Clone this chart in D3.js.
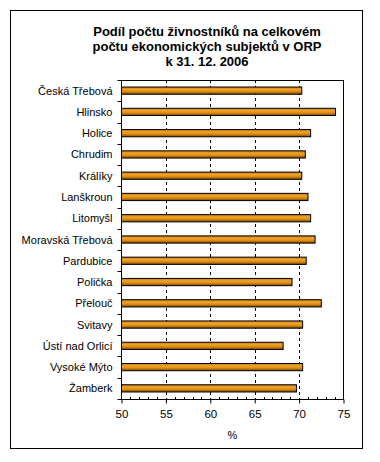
<!DOCTYPE html>
<html>
<head>
<meta charset="utf-8">
<script src="https://cdn.jsdelivr.net/npm/d3@7"></script>
<style>
  body { margin: 0; background: #fff; }
  svg { font-family: "Liberation Sans", Arial, sans-serif; }
</style>
</head>
<body>
<div id="chart"></div>
<script>
// data
var categories = ["Česká Třebová", "Hlinsko", "Holice", "Chrudim", "Králíky", "Lanškroun",
    "Litomyšl", "Moravská Třebová", "Pardubice", "Polička", "Přelouč", "Svitavy",
    "Ústí nad Orlicí", "Vysoké Mýto", "Žamberk"]
var values = [70.3, 74.1, 71.3, 70.7, 70.3, 71.0, 71.3, 71.8, 70.8, 69.2, 72.5, 70.4, 68.2, 70.4, 69.7]
var xTicks = [50, 55, 60, 65, 70, 75]
var titleLines = ["Podíl počtu živnostníků na celkovém", "počtu ekonomických subjektů v ORP", "k 31. 12. 2006"]
var xLabel = "%"

var W = 380, H = 462
var plotL = 121.5, plotR = 343.5, plotT = 80, plotB = 399

var svg = d3.select("#chart").append("svg")
    .attr("width", W)
    .attr("height", H)

var grad = svg.append("defs").append("linearGradient")
    .attr("id", "barGrad")
    .attr("x1", 0).attr("y1", 0).attr("x2", 0).attr("y2", 1)
grad.append("stop").attr("offset", "0%").attr("stop-color", "#c47a18")
grad.append("stop").attr("offset", "35%").attr("stop-color", "#f2a32a")
grad.append("stop").attr("offset", "65%").attr("stop-color", "#d88a10")
grad.append("stop").attr("offset", "100%").attr("stop-color", "#7a4400")

// outer frame
svg.append("rect")
    .attr("x", 10.5).attr("y", 10.5)
    .attr("width", 352).attr("height", 438)
    .attr("fill", "none").attr("stroke", "#000").attr("stroke-width", 1)

// title
svg.append("text")
    .attr("text-anchor", "middle")
    .attr("font-weight", "bold")
    .attr("font-size", 13)
    .selectAll("tspan")
    .data(titleLines)
    .enter().append("tspan")
    .attr("x", 207)
    .attr("y", (d, i) => 36 + i * 15)
    .text(d => d)

var x = d3.scaleLinear().domain([50, 75]).range([plotL, plotR])
var y = d3.scaleBand().domain(categories).range([plotT, plotB]).paddingInner(0.66).paddingOuter(0.33)

// dashed gridlines
svg.selectAll(".grid")
    .data(xTicks.slice(1, -1))
    .enter().append("line")
    .attr("class", "grid")
    .attr("x1", d => Math.round(x(d)) + 0.5)
    .attr("x2", d => Math.round(x(d)) + 0.5)
    .attr("y1", plotT).attr("y2", plotB)
    .attr("stroke", "#000")
    .attr("stroke-dasharray", "3,3")

// plot border
svg.append("rect")
    .attr("x", plotL).attr("y", plotT + 0.5)
    .attr("width", plotR - plotL).attr("height", plotB - plotT)
    .attr("fill", "none").attr("stroke", "#000")

// bars
svg.selectAll(".bar")
    .data(values)
    .enter().append("rect")
    .attr("class", "bar")
    .attr("x", x(50))
    .attr("y", (d, i) => y(categories[i]))
    .attr("width", d => x(d) - x(50))
    .attr("height", y.bandwidth())
    .attr("fill", "url(#barGrad)")
    .attr("stroke", "#000")
    .attr("stroke-width", 1)

// category axis
var yBoundaries = d3.range(categories.length + 1).map(i => plotT + i * (plotB - plotT) / categories.length)
svg.selectAll(".ytick")
    .data(yBoundaries)
    .enter().append("line")
    .attr("class", "ytick")
    .attr("x1", plotL - 4).attr("x2", plotL)
    .attr("y1", d => Math.round(d) + 0.5).attr("y2", d => Math.round(d) + 0.5)
    .attr("stroke", "#000")

svg.selectAll(".ylabel")
    .data(categories)
    .enter().append("text")
    .attr("class", "ylabel")
    .attr("x", plotL - 9)
    .attr("y", d => y(d) + y.bandwidth() / 2 + 4)
    .attr("text-anchor", "end")
    .attr("font-size", 11)
    .text(d => d)

// x axis
var xAxis = svg.append("g")
    .attr("transform", "translate(0," + (plotB + 0.5) + ")")
    .call(d3.axisBottom(x).tickValues(xTicks).tickSize(4).tickFormat(d3.format("d")))
xAxis.select(".domain").remove()
xAxis.selectAll("text").attr("font-size", 11.5).attr("font-family", "Liberation Sans, Arial, sans-serif").attr("fill", "#000").attr("y", 10).attr("dy", "0.71em")

// minor ticks inside
svg.selectAll(".minor")
    .data(d3.range(51, 75).filter(d => d % 5 != 0))
    .enter().append("line")
    .attr("class", "minor")
    .attr("x1", d => Math.round(x(d)) + 0.5).attr("x2", d => Math.round(x(d)) + 0.5)
    .attr("y1", plotB - 2).attr("y2", plotB)
    .attr("stroke", "#000")

svg.append("text")
    .attr("x", (plotL + plotR) / 2)
    .attr("y", 439)
    .attr("text-anchor", "middle")
    .attr("font-size", 11)
    .text(xLabel)
</script>
</body>
</html>
